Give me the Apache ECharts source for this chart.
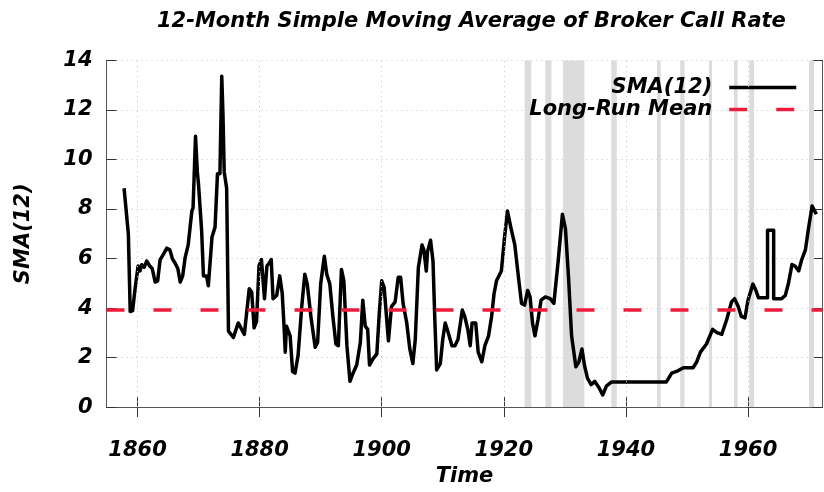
<!DOCTYPE html>
<html>
<head>
<meta charset="utf-8">
<script src="https://cdn.jsdelivr.net/npm/echarts@6/dist/echarts.min.js"></script>
<style>
  html, body { margin: 0; padding: 0; background: #fff; }
  #chart { width: 824px; height: 492px; }
</style>
</head>
<body>
<div id="chart"></div>
<script>
// values
const years = [
  1857.8, 1858.5, 1858.8, 1859.2, 1859.6, 1860.1, 1860.4, 1860.7, 1861.1, 1861.5,
  1862.0, 1862.4, 1862.9, 1863.3, 1863.7, 1864.3, 1864.8, 1865.3, 1865.7, 1866.1,
  1866.6, 1867.0, 1867.4, 1867.8, 1868.3, 1868.6, 1868.9, 1869.1, 1869.5, 1869.8,
  1870.0, 1870.5, 1870.8, 1871.3, 1871.6, 1872.2, 1872.7, 1873.1, 1873.5, 1873.8,
  1874.0, 1874.2, 1874.6, 1874.9, 1875.7, 1876.5, 1877.5, 1878.3, 1878.7, 1879.1,
  1879.5, 1879.9, 1880.3, 1880.8, 1881.2, 1881.6, 1881.9, 1882.2, 1882.8, 1883.3,
  1883.7, 1884.0, 1884.2, 1884.4, 1885.0, 1885.4, 1885.8, 1886.3, 1886.9, 1887.4,
  1887.8, 1888.4, 1889.1, 1889.5, 1890.0, 1890.6, 1891.0, 1891.5, 1892.0, 1892.5,
  1892.9, 1893.4, 1893.8, 1894.3, 1894.8, 1895.3, 1895.9, 1896.5, 1896.9, 1897.3,
  1897.7, 1898.0, 1898.6, 1899.2, 1899.6, 1900.0, 1900.4, 1901.1, 1901.6, 1902.2,
  1902.7, 1903.1, 1903.5, 1904.1, 1904.6, 1905.1, 1905.5, 1906.0, 1906.6, 1906.9,
  1907.3, 1907.5, 1907.8, 1908.0, 1908.4, 1908.7, 1909.0, 1909.6, 1910.0, 1910.4,
  1910.9, 1911.5, 1912.0, 1912.5, 1913.2, 1913.6, 1914.1, 1914.5, 1914.8, 1915.4,
  1915.8, 1916.4, 1916.9, 1917.5, 1918.0, 1918.4, 1918.8, 1919.6, 1920.1, 1920.6,
  1921.2, 1921.8, 1922.4, 1922.9, 1923.4, 1923.9, 1924.3, 1924.7, 1925.1, 1925.6,
  1926.1, 1926.8, 1927.6, 1928.2, 1928.9, 1929.6, 1930.1, 1930.6, 1931.1, 1931.8,
  1932.3, 1932.8, 1933.2, 1933.7, 1934.3, 1934.9, 1935.6, 1936.2, 1936.8, 1937.6,
  1946.6, 1947.5, 1948.3, 1949.4, 1951.0, 1951.6, 1952.2, 1953.2, 1954.2, 1954.9,
  1955.7, 1956.5, 1957.3, 1957.8, 1958.4, 1958.9, 1959.5, 1960.0, 1960.8, 1961.3,
  1961.7, 1963.2, 1963.2, 1964.2, 1964.2, 1965.5, 1966.1, 1966.6, 1967.2, 1967.7,
  1968.3, 1968.8, 1969.4, 1969.9, 1970.5, 1971.2
];
const sma = [
  8.84, 7.0, 3.86, 3.9, 4.78, 5.7, 5.5, 5.75, 5.65, 5.9,
  5.7, 5.6, 5.05, 5.1, 5.95, 6.2, 6.42, 6.35, 6.0, 5.84,
  5.6, 5.05, 5.3, 6.04, 6.55, 6.5, 7.92, 8.05, 10.94, 9.5,
  8.97, 7.14, 5.3, 5.3, 4.9, 6.87, 7.27, 9.43, 9.43, 13.36,
  11.8, 9.5, 8.84, 3.07, 2.81, 3.4, 2.94, 4.78, 4.65, 3.2,
  3.47, 5.7, 5.96, 4.38, 5.7, 5.83, 5.96, 4.38, 4.51, 5.3,
  4.6, 3.27, 2.22, 3.27, 2.88, 1.44, 1.37, 2.09, 4.06, 5.37,
  4.97, 3.66, 2.42, 2.61, 4.97, 6.09, 5.37, 4.97, 3.66, 2.55,
  2.48, 5.56, 5.1, 2.48, 1.04, 1.37, 1.7, 2.61, 4.32, 3.27,
  3.14, 1.7, 1.96, 2.15, 3.79, 5.1, 4.84, 2.68, 4.06, 4.25,
  5.24, 5.24, 4.19, 3.4, 2.35, 1.76, 2.74, 5.63, 6.55, 6.35,
  5.5, 6.28, 6.55, 6.74, 5.89, 3.53, 1.5, 1.76, 2.74, 3.4,
  3.0, 2.48, 2.48, 2.74, 3.92, 3.66, 3.14, 2.48, 3.4, 3.4,
  2.22, 1.83, 2.48, 2.88, 3.66, 4.58, 5.1, 5.5, 6.81, 7.92,
  7.2, 6.55, 5.24, 4.19, 4.12, 4.71, 4.45, 3.4, 2.88, 3.53,
  4.32, 4.45, 4.38, 4.19, 5.89, 7.79, 7.2, 5.24, 2.88, 1.63,
  1.83, 2.35, 1.7, 1.17, 0.91, 1.04, 0.78, 0.49, 0.85, 1.01,
  1.01, 1.37, 1.44, 1.59, 1.59, 1.83, 2.22, 2.55, 3.14, 3.01,
  2.94, 3.53, 4.25, 4.38, 4.06, 3.66, 3.6, 4.32, 4.97, 4.71,
  4.42, 4.42, 7.14, 7.14, 4.38, 4.38, 4.51, 4.97, 5.76, 5.7,
  5.5, 5.96, 6.35, 7.2, 8.12, 7.79
];
const longRunMean = 3.92;
const recessionStarts = [1923.4, 1926.8, 1929.7, 1937.6, 1945.1, 1948.9, 1953.6, 1957.7, 1960.2, 1970.0];
const recessionEnds   = [1924.5, 1927.8, 1933.2, 1938.5, 1945.7, 1949.6, 1954.1, 1958.3, 1961.0, 1970.8];
const xTicks = [1860, 1880, 1900, 1920, 1940, 1960];
const xMin = 1854.92, xMax = 1972.2;

const font = '"DejaVu Sans", Verdana, sans-serif';
const txt = { fontFamily: font, fontWeight: 'bold', fontStyle: 'italic', color: '#000', fontSize: 21 };
const grid = { type: [1, 4], color: '#c4c4c4', width: 1 };
const frame = { show: true, lineStyle: { color: '#555', width: 1 } };
const tick = { show: true, inside: true, length: 10, lineStyle: { color: '#333' } };

const chart = echarts.init(document.getElementById('chart'));
chart.setOption({
  animation: false,
  backgroundColor: '#fff',
  title: {
    text: '12-Month Simple Moving Average of Broker Call Rate',
    left: 152, top: 6,
    textStyle: txt
  },
  legend: {
    orient: 'vertical', align: 'right',
    right: 21, top: 72,
    itemWidth: 67, itemHeight: 14, itemGap: 1,
    itemStyle: { opacity: 0 },
    lineStyle: { width: 3.5 },
    textStyle: Object.assign({}, txt, { padding: [0, 12, 0, 0] }),
    data: ['SMA(12)', 'Long-Run Mean']
  },
  grid: { left: 106.5, right: 1.5, top: 60.5, bottom: 75.5 },
  xAxis: [{
    type: 'value', min: xMin, max: xMax,
    name: 'Time', nameLocation: 'middle', nameGap: 53, nameTextStyle: txt,
    axisLine: frame,
    axisTick: Object.assign({ customValues: xTicks }, tick),
    axisLabel: Object.assign({ customValues: xTicks, margin: 33, formatter: v => String(v) }, txt),
    splitLine: { show: false }
  }, {
    type: 'value', min: xMin, max: xMax, position: 'top',
    axisLine: frame,
    axisTick: Object.assign({ customValues: xTicks }, tick),
    axisLabel: { show: false }, splitLine: { show: false }
  }],
  yAxis: [{
    type: 'value', min: 0, max: 14, interval: 2,
    name: 'SMA(12)', nameLocation: 'middle', nameGap: 72, nameTextStyle: txt,
    axisLine: frame, axisTick: tick,
    axisLabel: Object.assign({ margin: 14 }, txt),
    splitLine: { show: true, lineStyle: grid }
  }, {
    type: 'value', min: 0, max: 14, interval: 2, position: 'right',
    axisLine: frame, axisTick: tick,
    axisLabel: { show: false }, splitLine: { show: false }
  }],
  series: [{
    name: 'SMA(12)', type: 'line',
    data: years.map((y, i) => [y, sma[i]]),
    showSymbol: false, symbol: 'none',
    lineStyle: { color: '#000', width: 3.5, join: 'round' },
    itemStyle: { color: '#000' },
    z: 3,
    markArea: {
      silent: true,
      itemStyle: { color: '#dcdcdc' },
      data: recessionStarts.map((s, i) => [{ xAxis: s }, { xAxis: recessionEnds[i] }])
    },
    markLine: {
      silent: true, symbol: 'none', label: { show: false },
      lineStyle: grid,
      data: xTicks.map(v => ({ xAxis: v }))
    }
  }, {
    name: 'Long-Run Mean', type: 'line',
    data: [[xMin, longRunMean], [xMax, longRunMean]],
    showSymbol: false, symbol: 'none',
    lineStyle: { color: '#ee1c3c', width: 3.5, type: [18, 29] },
    itemStyle: { color: '#ee1c3c' },
    z: 4
  }]
});
</script>
</body>
</html>
